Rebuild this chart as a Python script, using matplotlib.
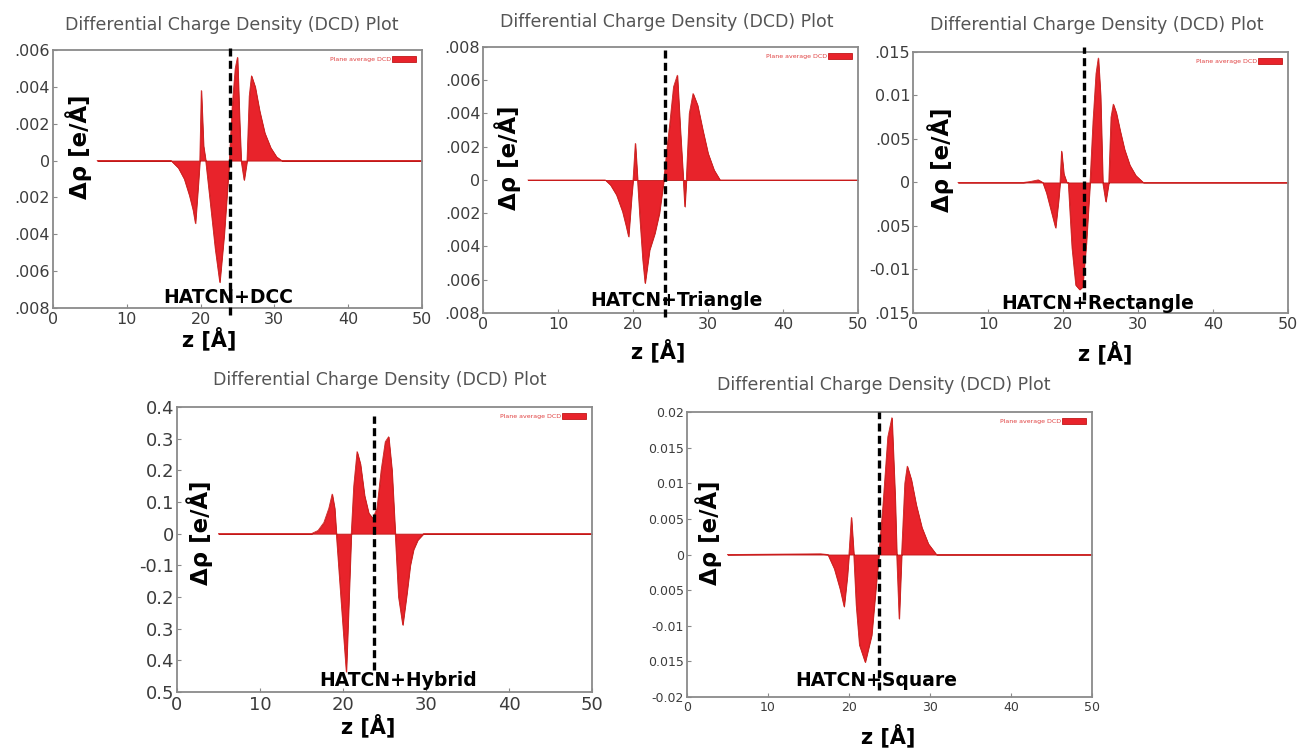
import matplotlib
matplotlib.use('Agg')
import matplotlib.pyplot as plt

# Plane-averaged differential charge density, one trace per adsorption geometry
z_dcc = [6, 16.0, 17.0, 17.8, 18.5, 19.0, 19.3, 19.7, 19.9, 20.1, 20.4, 20.7,
         21.3, 22.0, 22.6, 23.2, 23.9, 24.3, 24.7, 25.0, 25.3, 25.5, 25.9,
         26.3, 26.6, 26.9, 27.4, 28.0, 28.7, 29.5, 30.3, 31.0, 50]
rho_dcc = [0, 0, -0.0004, -0.0010, -0.0019, -0.0027, -0.0034, -0.0012, 0,
           0.0038, 0.0008, 0, -0.0022, -0.0048, -0.0066, -0.0040, 0, 0.0030,
           0.0050, 0.0056, 0.0020, 0, -0.00105, 0, 0.0035, 0.0046, 0.0040,
           0.0027, 0.0015, 0.0007, 0.0002, 0, 0]

z_tri = [6, 16.3, 17.0, 17.8, 18.6, 19.1, 19.4, 19.8, 20.0, 20.3, 20.6, 20.9,
         21.3, 21.6, 22.2, 22.9, 23.5, 24.1, 24.6, 24.9, 25.4, 25.9, 26.3,
         26.7, 26.9, 27.1, 27.5, 28.0, 28.6, 29.3, 30.0, 30.8, 31.6, 50]
rho_tri = [0, 0, -0.0003, -0.0009, -0.0019, -0.0028, -0.0034, -0.0010, 0,
           0.0022, 0, -0.0022, -0.0048, -0.0062, -0.0042, -0.0032, -0.0020,
           0, 0.0022, 0.0034, 0.0056, 0.0063, 0.0030, 0, -0.0016, 0, 0.0040,
           0.0052, 0.0045, 0.0030, 0.0016, 0.0006, 0, 0]

z_rect = [6, 14.7, 15.6, 16.7, 17.3, 17.8, 18.4, 19.0, 19.4, 19.6, 19.8, 20.1,
          20.5, 20.7, 21.2, 21.7, 22.2, 22.6, 23.1, 23.6, 24.0, 24.4, 24.7,
          25.0, 25.3, 25.7, 26.1, 26.4, 26.7, 27.1, 27.6, 28.2, 28.9, 29.7,
          30.7, 50]
rho_rect = [0, 0, 0.0001, 0.0003, 0, -0.0012, -0.0032, -0.0052, -0.0020, 0,
            0.0036, 0.0010, 0, 0, -0.0075, -0.0118, -0.0123, -0.0120,
            -0.0070, 0, 0.0070, 0.0125, 0.0143, 0.0100, 0, -0.0022, 0,
            0.0075, 0.0090, 0.0080, 0.0060, 0.0038, 0.0020, 0.0008, 0, 0]

z_hyb = [5, 16.2, 17.0, 17.7, 18.3, 18.7, 19.0, 19.2, 19.8, 20.4, 21.0, 21.3,
         21.7, 22.1, 22.6, 23.1, 23.6, 24.1, 24.6, 25.1, 25.5, 25.9, 26.3,
         26.7, 27.2, 27.7, 28.1, 28.5, 29.0, 29.7, 50]
rho_hyb = [0, 0, 0.01, 0.035, 0.08, 0.125, 0.08, 0, -0.22, -0.436, 0, 0.15,
           0.259, 0.22, 0.12, 0.065, 0.048, 0.08, 0.20, 0.29, 0.306, 0.20, 0,
           -0.20, -0.288, -0.188, -0.10, -0.05, -0.02, 0, 0]

z_sq = [5, 16.5, 17.4, 18.2, 18.9, 19.4, 19.8, 20.0, 20.3, 20.6, 20.9, 21.3,
        22.0, 22.8, 23.5, 23.7, 24.2, 24.8, 25.3, 25.7, 25.9, 26.2, 26.5,
        26.9, 27.2, 27.7, 28.3, 29.0, 29.8, 30.8, 50]
rho_sq = [0, 0.0001, 0, -0.0020, -0.0048, -0.0073, -0.0030, 0, 0.0052, 0,
          -0.0071, -0.0127, -0.0151, -0.0113, -0.0024, 0, 0.0069, 0.0165,
          0.0192, 0.0080, 0, -0.0090, 0, 0.0100, 0.0124, 0.0105, 0.0070,
          0.0038, 0.0015, 0, 0]

# interface position (dashed line) for each system
interface_z = [24.0, 24.3, 22.8, 23.7, 23.7]

system_names = ['HATCN+DCC', 'HATCN+Triangle', 'HATCN+Rectangle',
                'HATCN+Hybrid', 'HATCN+Square']

ytick_vals = [
    [0.006, 0.004, 0.002, 0, -0.002, -0.004, -0.006, -0.008],
    [0.008, 0.006, 0.004, 0.002, 0, -0.002, -0.004, -0.006, -0.008],
    [0.015, 0.01, 0.005, 0, -0.005, -0.01, -0.015],
    [0.4, 0.3, 0.2, 0.1, 0, -0.1, -0.2, -0.3, -0.4, -0.5],
    [0.02, 0.015, 0.01, 0.005, 0, -0.005, -0.01, -0.015, -0.02],
]
ytick_text = [
    ['.006', '.004', '.002', '0', '.002', '.004', '.006', '.008'],
    ['.008', '.006', '.004', '.002', '0', '.002', '.004', '.006', '.008'],
    ['.015', '0.01', '.005', '0', '.005', '-0.01', '.015'],
    ['0.4', '0.3', '0.2', '0.1', '0', '-0.1', '0.2', '0.3', '0.4', '0.5'],
    ['0.02', '0.015', '0.01', '0.005', '0', '0.005', '-0.01', '0.015', '-0.02'],
]
xticks = [0, 10, 20, 30, 40, 50]

RED = '#e8232b'
GRAY = '#8a8a8a'
TXT = '#3c3c3c'

fig = plt.figure(figsize=(13.01, 7.52), dpi=100)

# axes boxes in figure fraction
boxes = [
    [0.0407, 0.5904, 0.2836, 0.3431],
    [0.3713, 0.5838, 0.2882, 0.3537],
    [0.7018, 0.5838, 0.2882, 0.3471],
    [0.1360, 0.0798, 0.3190, 0.3790],
    [0.5280, 0.0731, 0.3113, 0.3790],
]
# extent of dashed marker (axes fraction, allowed to spill past the frame)
dash_span = [(-0.027, 1.01), (-0.015, 1.0), (0.05, 1.02), (0.077, 0.97), (0.025, 1.0)]
tick_size = [11.5, 11.5, 11.5, 13, 9]
# pixel positions for titles, y labels, x labels and system tags
title_xy = [(232, 25), (667, 22), (1097, 25), (380, 380), (884, 385)]
ylab_xy = [(79, 147), (508, 158), (941, 160), (200, 533), (709, 533)]
xlab_xy = [(209, 338), (658, 350), (1105, 352), (368, 725), (888, 735)]
tag_xy = [(228, 298), (676, 300), (1098, 303), (398, 680), (876, 680)]

series = [(z_dcc, rho_dcc), (z_tri, rho_tri), (z_rect, rho_rect),
          (z_hyb, rho_hyb), (z_sq, rho_sq)]

W, H = 1301.0, 752.0


def fx(px):
    return px / W


def fy(py):
    return 1 - py / H


for i, (z, rho) in enumerate(series):
    ax = fig.add_axes(boxes[i])
    ax.fill_between(z, rho, 0, color=RED, linewidth=0.6, edgecolor='#c01818',
                    label='Plane average DCD')
    ax.plot(z, rho, color='#d42020', linewidth=0.6)
    ax.set_xlim(0, 50)
    ax.set_ylim(ytick_vals[i][-1], ytick_vals[i][0])
    ax.set_xticks(xticks)
    ax.set_xticklabels([str(t) for t in xticks])
    ax.set_yticks(ytick_vals[i])
    ax.set_yticklabels(ytick_text[i])
    ax.tick_params(direction='in', length=3, color=GRAY, labelcolor=TXT,
                   labelsize=tick_size[i], pad=2)
    ax.tick_params(axis='x', pad=3)
    for sp in ax.spines.values():
        sp.set_color(GRAY)
        sp.set_linewidth(1.3)

    lo, hi = dash_span[i]
    ax.axvline(interface_z[i], ymin=lo, ymax=hi, color='black', linewidth=2.4,
               linestyle=(0, (2.4, 1.3)), clip_on=False, zorder=5)

    leg = ax.legend(loc='upper right', fontsize=4.5, frameon=False,
                    markerfirst=False, handlelength=3.8, handleheight=1.0,
                    borderaxespad=0.6, handletextpad=0.2)
    for t in leg.get_texts():
        t.set_color('#e04040')

    fig.text(fx(title_xy[i][0]), fy(title_xy[i][1]),
             'Differential Charge Density (DCD) Plot', ha='center',
             va='center', fontsize=12.5, color='#555555')
    fig.text(fx(ylab_xy[i][0]), fy(ylab_xy[i][1]), 'Δρ [e/Å]',
             rotation=90, ha='center', va='center', fontsize=16.5,
             fontweight='bold', color='black', zorder=6)
    fig.text(fx(xlab_xy[i][0]), fy(xlab_xy[i][1]), 'z [Å]', ha='center',
             va='center', fontsize=15, fontweight='bold', color='black')
    fig.text(fx(tag_xy[i][0]), fy(tag_xy[i][1]), system_names[i],
             ha='center', va='center', fontsize=13.5, fontweight='bold',
             color='black', zorder=7)

fig.savefig('out.png', dpi=100, facecolor='white')
